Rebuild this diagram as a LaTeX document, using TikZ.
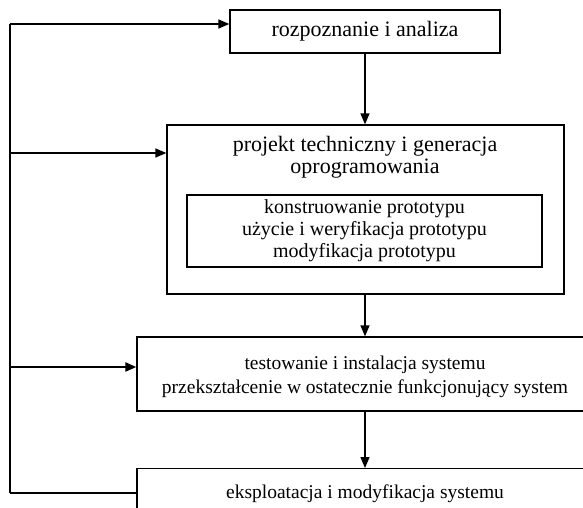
\documentclass[tikz,border=0pt]{standalone}
\usepackage{fontspec}
\setmainfont{Liberation Serif}
\usetikzlibrary{arrows.meta}
\begin{document}
\begin{tikzpicture}[x=1pt,y=-1pt,
  line width=1.3pt,
  stagebox/.style={draw, rectangle, inner sep=0pt, align=center, line width=1.3pt},
  flow/.style={-{Triangle[length=11pt,width=9pt]}},
  titletext/.style={font=\fontsize{22}{22.3}\selectfont},
  prototext/.style={font=\fontsize{20}{21.8}\selectfont},
  systemtext/.style={font=\fontsize{19.5}{24}\selectfont}]
  \clip (0,0) rectangle (583,507);
  \fill[white] (0,0) rectangle (583,507);

  % stages of the process
  \node[stagebox, titletext, minimum width=270pt, minimum height=43pt] (analysis) at (365,31.5)
    {rozpoznanie i analiza};
  \node[stagebox, minimum width=397pt, minimum height=169pt] (design) at (365.5,209.5) {};
  \node[titletext, align=center, anchor=north] (designtitle) at (365,132)
    {projekt techniczny i generacja\\oprogramowania};
  \node[stagebox, prototext, minimum width=355pt, minimum height=72pt] (proto) at (364.5,231)
    {konstruowanie prototypu\\użycie i weryfikacja prototypu\\modyfikacja prototypu};
  \node[stagebox, minimum width=456pt, minimum height=74pt] (testing) at (365,374) {};
  \node[systemtext, align=center] (testingtext) at (365,377)
    {testowanie i instalacja systemu\\przekształcenie w ostatecznie funkcjonujący system};
  \node[stagebox, systemtext, minimum width=456pt, minimum height=50pt, anchor=north] (operation) at (365,468)
    {eksploatacja i modyfikacja systemu};

  % main flow
  \draw[flow] (analysis.south -| 365,0) -- (design.north -| 365,0);
  \draw[flow] (design.south -| 365,0) -- (testing.north -| 365,0);
  \draw[flow] (testing.south -| 365,0) -- (operation.north -| 365,0);

  % feedback bus on the left
  \coordinate (busA) at (10,24);
  \coordinate (busB) at (10,153);
  \coordinate (busC) at (10,367);
  \coordinate (busD) at (10,493);
  \draw (busA) -- (busD);
  \draw[flow] (busA) -- (busA -| analysis.west);
  \draw[flow] (busB) -- (busB -| design.west);
  \draw[flow, line width=2.2pt] (busC) -- (busC -| testing.west);
  \draw (busD) -- (busD -| operation.west);
\end{tikzpicture}
\end{document}
